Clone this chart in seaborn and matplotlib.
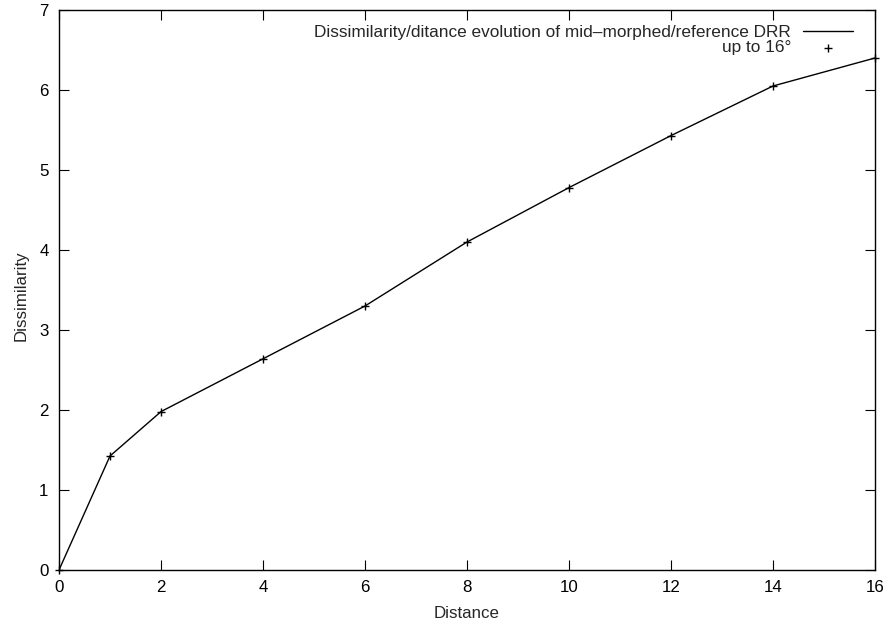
import matplotlib
matplotlib.use("Agg")
import matplotlib.pyplot as plt
import seaborn as sns
import pandas as pd

distance = [0, 1, 2, 4, 6, 8, 10, 12, 14, 16]
dissimilarity = [0.0, 1.425, 1.98, 2.64, 3.30, 4.10, 4.78, 5.43, 6.05, 6.40]
line_label = "Dissimilarity/ditance evolution of mid\u2013morphed/reference DRR"
point_label = "up to 16\u00b0"
x_ticks = [0, 2, 4, 6, 8, 10, 12, 14, 16]
y_ticks = [0, 1, 2, 3, 4, 5, 6, 7]

sns.set_style("ticks")
plt.rcParams['font.family'] = ['Liberation Sans', 'DejaVu Sans']

df = pd.DataFrame({"Distance": distance, "Dissimilarity": dissimilarity})

W, H = 885, 625
L, R, T, B = 59, 875, 10, 570
fig = plt.figure(figsize=(W / 100, H / 100), dpi=100)
ax = fig.add_axes([L / W, 1 - B / H, (R - L) / W, (B - T) / H])

sns.lineplot(data=df, x="Distance", y="Dissimilarity", ax=ax, color="black",
             linewidth=1.0, label=line_label)
sns.scatterplot(data=df, x="Distance", y="Dissimilarity", ax=ax, color="black",
                marker="+", s=40, linewidth=1.0, label=point_label, zorder=3,
                clip_on=False)

ax.set_xlim(0, 16)
ax.set_ylim(0, 7)
ax.set_xticks(x_ticks)
ax.set_yticks(y_ticks)
ax.tick_params(direction="in", top=True, right=True, length=7, width=0.8,
               labelsize=12.2, colors="black")
ax.tick_params(axis="x", pad=7)
ax.tick_params(axis="y", pad=7.5)
for sp in ax.spines.values():
    sp.set_linewidth(1.0)
    sp.set_color("black")
ax.set_xlabel("Distance", fontsize=12.2)
ax.set_ylabel("Dissimilarity", fontsize=12.2)
ax.xaxis.set_label_coords(0.5, -(606 - B) / (B - T))
ax.yaxis.set_label_coords((28.5 - L) / (R - L), 0.49)

leg = ax.legend(loc="upper right", bbox_to_anchor=(0.973, 0.973), frameon=False,
                markerfirst=False, fontsize=12.4, handlelength=2.9,
                handletextpad=0.7, labelspacing=0.0, borderaxespad=0,
                borderpad=0)

fig.savefig("out.png", dpi=100)
